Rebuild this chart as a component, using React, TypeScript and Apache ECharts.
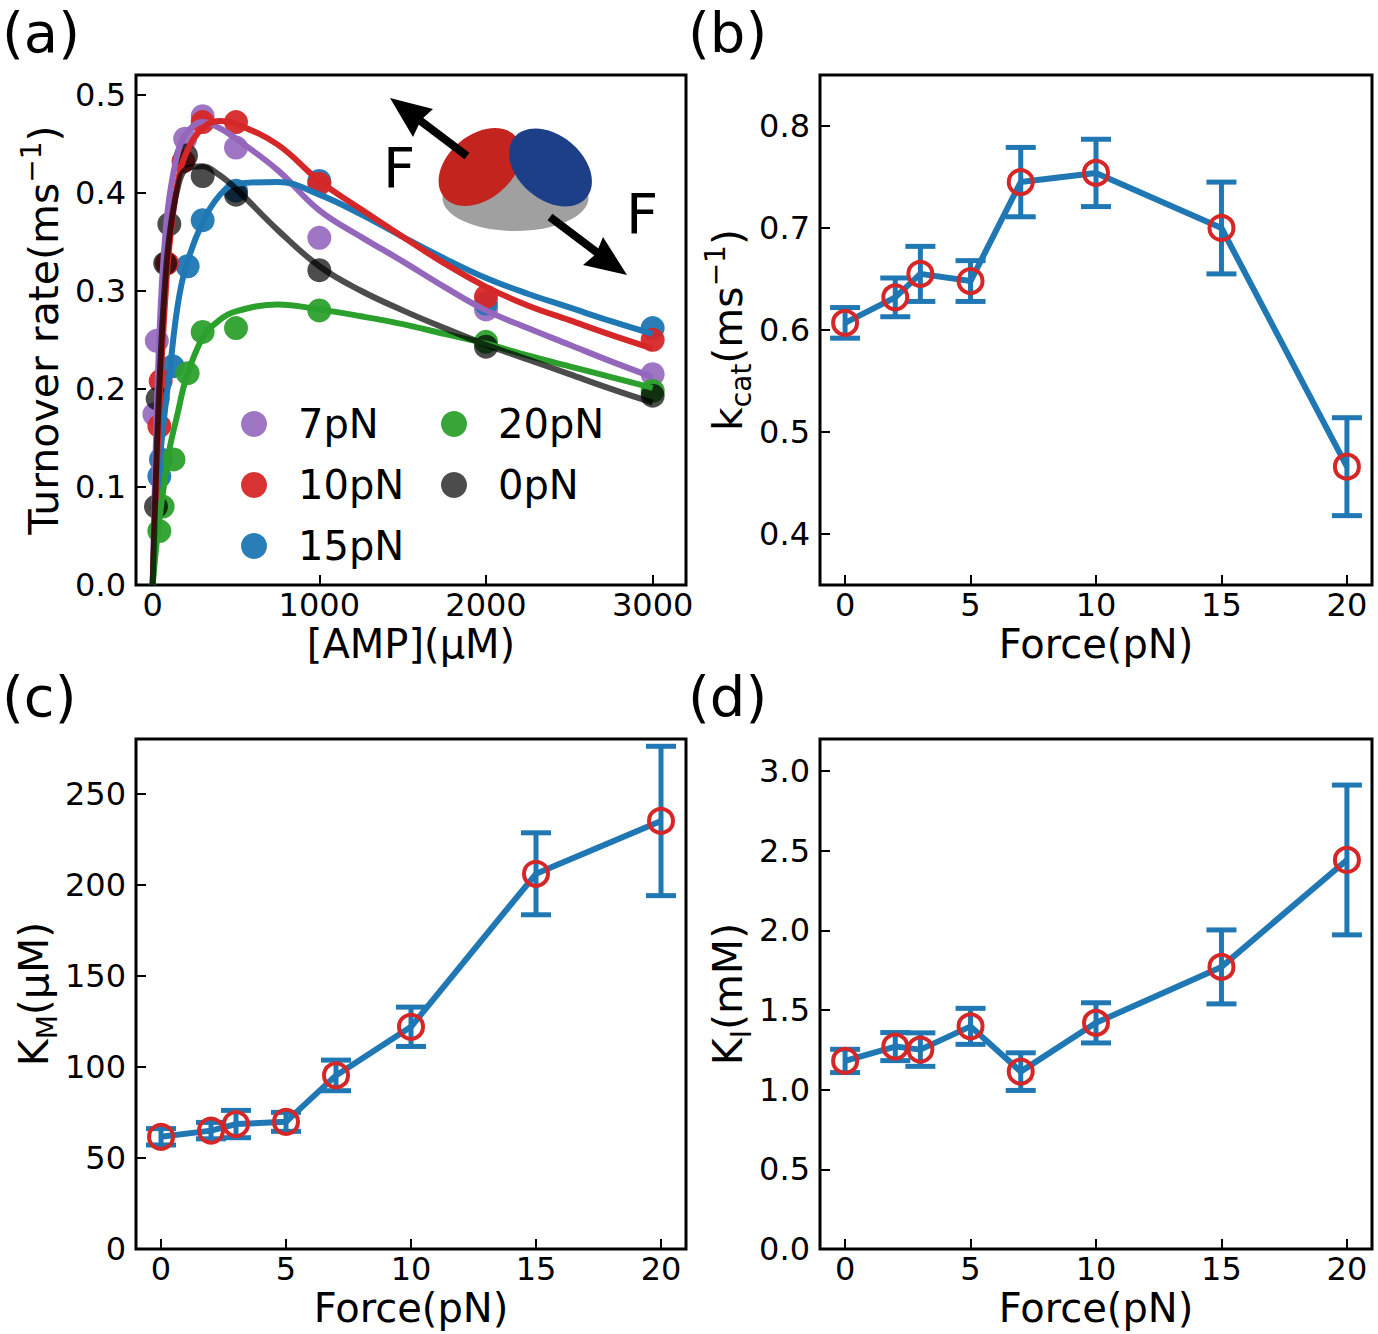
import React, { useEffect, useRef } from 'react';
import * as echarts from 'echarts';

// panel (a): measured turnover rates
const PN7_X = [10, 25, 195, 300, 500, 1000, 2000, 3000];
const PN7_Y = [0.174, 0.249, 0.455, 0.478, 0.446, 0.354, 0.281, 0.215];
const PN10_X = [40, 48, 86, 185, 300, 500, 1000, 2000, 3000];
const PN10_Y = [0.162, 0.208, 0.328, 0.432, 0.472, 0.472, 0.409, 0.294, 0.25];
const PN15_X = [40, 50, 120, 210, 300, 500, 1000, 2000, 3000];
const PN15_Y = [0.111, 0.128, 0.223, 0.325, 0.372, 0.402, 0.412, 0.287, 0.262];
const PN20_X = [40, 60, 125, 210, 300, 500, 1000, 2000, 3000];
const PN20_Y = [0.055, 0.08, 0.128, 0.216, 0.258, 0.262, 0.28, 0.248, 0.198];
const PN0_X = [20, 30, 75, 100, 200, 300, 500, 1000, 2000, 3000];
const PN0_Y = [0.08, 0.19, 0.328, 0.368, 0.438, 0.417, 0.398, 0.321, 0.243, 0.193];

// panel (a): fitted curves at these concentrations
const FIT_X = [0, 25, 50, 75, 100, 150, 200, 300, 400, 500, 750, 1000, 1250, 1500, 1750, 2000, 2250, 2500, 2750, 3000];
const FIT7_Y = [0, 0.18, 0.29, 0.355, 0.395, 0.44, 0.46, 0.472, 0.466, 0.455, 0.423, 0.382, 0.355, 0.33, 0.304, 0.28, 0.262, 0.245, 0.228, 0.212];
const FIT10_Y = [0, 0.12, 0.215, 0.29, 0.345, 0.41, 0.44, 0.466, 0.473, 0.47, 0.449, 0.412, 0.383, 0.355, 0.328, 0.304, 0.285, 0.27, 0.255, 0.241];
const FIT15_Y = [0, 0.08, 0.14, 0.18, 0.215, 0.285, 0.325, 0.37, 0.397, 0.409, 0.411, 0.398, 0.378, 0.355, 0.333, 0.313, 0.297, 0.283, 0.269, 0.256];
const FIT20_Y = [0, 0.045, 0.08, 0.11, 0.138, 0.175, 0.21, 0.252, 0.27, 0.279, 0.286, 0.281, 0.274, 0.266, 0.256, 0.246, 0.234, 0.223, 0.212, 0.201];
const FIT0_Y = [0, 0.14, 0.24, 0.31, 0.355, 0.405, 0.424, 0.427, 0.418, 0.404, 0.362, 0.325, 0.3, 0.28, 0.262, 0.245, 0.23, 0.215, 0.2, 0.186];

// panels (b)-(d)
const FORCE = [0, 2, 3, 5, 7, 10, 15, 20];
const KCAT = [0.607, 0.632, 0.655, 0.648, 0.745, 0.754, 0.7, 0.466];
const KCAT_ERR = [0.015, 0.019, 0.027, 0.02, 0.034, 0.033, 0.045, 0.048];
const KM = [61.6, 65, 68.6, 69.8, 95.3, 122, 206, 235];
const KM_ERR = [4.5, 4.5, 7.5, 5.2, 8.4, 10.8, 22.5, 41];
const KI = [1.18, 1.27, 1.251, 1.397, 1.113, 1.419, 1.77, 2.441];
const KI_ERR = [0.073, 0.088, 0.105, 0.113, 0.118, 0.126, 0.232, 0.47];

const FONT = 'DejaVu Sans';
const BLUE = '#1f77b4';
const RED = '#d62728';
const PURPLE = '#9467bd';
const GREEN = '#2ca02c';

const zip = (xs: number[], ys: number[]) => xs.map((x, i) => [x, ys[i]]);

const tickFmt = (step: number, dec: number) => (v: number) => {
  const r = v / step;
  return Math.abs(r - Math.round(r)) < 1e-6 ? v.toFixed(dec) : '';
};

function xAxis(grid: number, min: number, max: number, step: number, name: string) {
  return {
    type: 'value',
    gridIndex: grid,
    min,
    max,
    splitNumber: Math.round((max - min) / step),
    minInterval: step,
    maxInterval: step,
    name,
    nameLocation: 'middle',
    nameGap: 39,
    nameTextStyle: { fontSize: 40, color: '#000', fontFamily: FONT },
    axisLine: { show: false, onZero: false },
    splitLine: { show: false },
    axisTick: { inside: true, length: 10, lineStyle: { color: '#000', width: 2 } },
    axisLabel: { fontSize: 32, color: '#000', fontFamily: FONT, margin: 4, formatter: tickFmt(step, 0) },
  };
}

function yAxis(grid: number, min: number, max: number, step: number, dec: number, name: string, gap: number) {
  return {
    type: 'value',
    gridIndex: grid,
    min,
    max,
    splitNumber: Math.round((max - min) / step),
    minInterval: step,
    maxInterval: step,
    name,
    nameLocation: 'middle',
    nameRotate: 90,
    nameGap: gap,
    nameTextStyle: {
      fontSize: 41,
      lineHeight: 54,
      color: '#000',
      fontFamily: FONT,
      rich: {
        sup: { fontSize: 28, verticalAlign: 'top', color: '#000', fontFamily: FONT },
        sub: { fontSize: 28, verticalAlign: 'bottom', color: '#000', fontFamily: FONT },
      },
    },
    axisLine: { show: false, onZero: false },
    splitLine: { show: false },
    axisTick: { inside: true, length: 10, lineStyle: { color: '#000', width: 2 } },
    axisLabel: { fontSize: 32, color: '#000', fontFamily: FONT, margin: 10, formatter: tickFmt(step, dec) },
  };
}

function errorSeries(axis: number, ys: number[], errs: number[]) {
  return {
    type: 'custom',
    xAxisIndex: axis,
    yAxisIndex: axis,
    data: FORCE.map((x, i) => [x, ys[i], errs[i]]),
    renderItem: (_params: any, api: any) => {
      const x = api.value(0);
      const y = api.value(1);
      const e = api.value(2);
      const lo = api.coord([x, y - e]);
      const hi = api.coord([x, y + e]);
      const w = 15;
      const style = { stroke: BLUE, lineWidth: 5 };
      return {
        type: 'group',
        children: [
          { type: 'line', shape: { x1: lo[0], y1: lo[1], x2: hi[0], y2: hi[1] }, style },
          { type: 'line', shape: { x1: lo[0] - w, y1: lo[1], x2: lo[0] + w, y2: lo[1] }, style },
          { type: 'line', shape: { x1: hi[0] - w, y1: hi[1], x2: hi[0] + w, y2: hi[1] }, style },
        ],
      };
    },
  };
}

function forceLine(axis: number, ys: number[]) {
  return {
    type: 'line',
    xAxisIndex: axis,
    yAxisIndex: axis,
    data: zip(FORCE, ys),
    symbol: 'circle',
    symbolSize: 24,
    showSymbol: true,
    lineStyle: { color: BLUE, width: 6 },
    itemStyle: { color: 'rgba(0,0,0,0)', borderColor: RED, borderWidth: 4 },
    z: 3,
  };
}

function dots(name: string, xs: number[], ys: number[], color: string, opacity: number) {
  return {
    type: 'scatter',
    name,
    xAxisIndex: 0,
    yAxisIndex: 0,
    data: zip(xs, ys),
    symbol: 'circle',
    symbolSize: 24,
    itemStyle: { color, opacity },
  };
}

function fit(name: string, ys: number[], color: string, opacity: number) {
  return {
    type: 'line',
    name,
    xAxisIndex: 0,
    yAxisIndex: 0,
    data: zip(FIT_X, ys),
    showSymbol: false,
    smooth: 0.4,
    lineStyle: { color, width: 6, opacity },
  };
}

const legendBase = {
  orient: 'vertical',
  itemWidth: 26,
  itemHeight: 26,
  itemGap: 21,
  icon: 'circle',
  selectedMode: false,
  textStyle: { fontSize: 40, lineHeight: 40, color: '#000', fontFamily: FONT, padding: [0, 0, 0, 26] },
};

export default function App() {
  const chartRef = useRef<HTMLDivElement>(null);

  useEffect(() => {
    if (!chartRef.current) return;
    document.body.style.margin = '0';
    const chart = echarts.init(chartRef.current, null, { renderer: 'svg' });

    const gridBox = { show: true, borderColor: '#000', borderWidth: 3, backgroundColor: 'transparent' };

    chart.setOption({
      animation: false,
      textStyle: { fontFamily: FONT },
      grid: [
        { left: 136, top: 75, width: 550, height: 510, ...gridBox },
        { left: 820, top: 75, width: 552, height: 510, ...gridBox },
        { left: 136, top: 739, width: 550, height: 510, ...gridBox },
        { left: 820, top: 739, width: 552, height: 510, ...gridBox },
      ],
      xAxis: [
        xAxis(0, -100, 3200, 1000, '[AMP](μM)'),
        xAxis(1, -1, 21, 5, 'Force(pN)'),
        xAxis(2, -1, 21, 5, 'Force(pN)'),
        xAxis(3, -1, 21, 5, 'Force(pN)'),
      ],
      yAxis: [
        yAxis(0, 0, 0.52, 0.1, 1, 'Turnover rate(ms{sup|−1})', 58),
        yAxis(1, 0.35, 0.85, 0.1, 1, 'k{sub|cat}(ms{sup|−1})', 50),
        yAxis(2, 0, 280, 50, 0, 'K{sub|M}(μM)', 72),
        yAxis(3, 0, 3.2, 0.5, 1, 'K{sub|I}(mM)', 52),
      ],
      legend: [
        { ...legendBase, data: ['7pN', '10pN', '15pN'], left: 236, top: 399 },
        { ...legendBase, data: ['20pN', '0pN'], left: 436, top: 399 },
      ],
      graphic: [
        { type: 'text', left: 2, top: 4, style: { text: '(a)', fontSize: 56, fill: '#000', fontFamily: FONT } },
        { type: 'text', left: 688, top: 4, style: { text: '(b)', fontSize: 56, fill: '#000', fontFamily: FONT } },
        { type: 'text', left: 2, top: 668, style: { text: '(c)', fontSize: 56, fill: '#000', fontFamily: FONT } },
        { type: 'text', left: 688, top: 668, style: { text: '(d)', fontSize: 56, fill: '#000', fontFamily: FONT } },
        // inset: the enzyme pulled apart by two forces
        { type: 'ellipse', shape: { cx: 515.5, cy: 198, rx: 73, ry: 33 }, style: { fill: '#a0a0a0' }, z: 10 },
        { type: 'ellipse', x: 480, y: 167, rotation: 0.7, shape: { cx: 0, cy: 0, rx: 47, ry: 32 }, style: { fill: '#c4241e' }, z: 11 },
        { type: 'ellipse', x: 550.5, y: 167.5, rotation: -0.7, shape: { cx: 0, cy: 0, rx: 47, ry: 32 }, style: { fill: '#1d3f88' }, z: 12 },
        { type: 'line', shape: { x1: 467, y1: 156, x2: 418, y2: 119 }, style: { stroke: '#000', lineWidth: 8 }, z: 13 },
        { type: 'polygon', shape: { points: [[390, 98], [433, 109], [421, 120], [413, 137]] }, style: { fill: '#000' }, z: 13 },
        { type: 'line', shape: { x1: 550, y1: 217, x2: 599, y2: 254 }, style: { stroke: '#000', lineWidth: 8 }, z: 13 },
        { type: 'polygon', shape: { points: [[627, 275], [583, 265], [596, 254], [603, 237]] }, style: { fill: '#000' }, z: 13 },
        { type: 'text', x: 383, y: 167, style: { text: 'F', fontSize: 56, fill: '#000', fontFamily: FONT, textVerticalAlign: 'middle' }, z: 13 },
        { type: 'text', x: 626, y: 213, style: { text: 'F', fontSize: 56, fill: '#000', fontFamily: FONT, textVerticalAlign: 'middle' }, z: 13 },
      ],
      series: [
        dots('7pN', PN7_X, PN7_Y, PURPLE, 0.9),
        fit('fit 7pN', FIT7_Y, PURPLE, 1),
        dots('15pN', PN15_X, PN15_Y, BLUE, 0.95),
        fit('fit 15pN', FIT15_Y, BLUE, 1),
        dots('10pN', PN10_X, PN10_Y, RED, 0.95),
        fit('fit 10pN', FIT10_Y, RED, 1),
        dots('20pN', PN20_X, PN20_Y, GREEN, 0.95),
        fit('fit 20pN', FIT20_Y, GREEN, 1),
        dots('0pN', PN0_X, PN0_Y, '#000', 0.7),
        fit('fit 0pN', FIT0_Y, '#000', 0.7),
        errorSeries(1, KCAT, KCAT_ERR),
        forceLine(1, KCAT),
        errorSeries(2, KM, KM_ERR),
        forceLine(2, KM),
        errorSeries(3, KI, KI_ERR),
        forceLine(3, KI),
      ],
    });

    return () => {
      chart.dispose();
    };
  }, []);

  return <div ref={chartRef} style={{ width: 1378, height: 1334 }} />;
}
